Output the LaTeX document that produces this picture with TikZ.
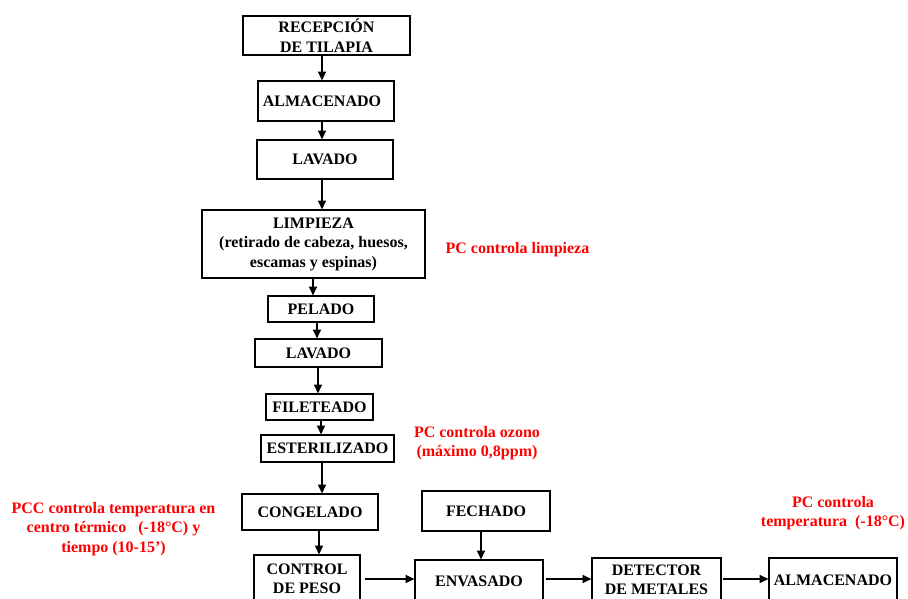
\documentclass[tikz,border=0pt]{standalone}
\usepackage{fontspec}
\setmainfont{Liberation Serif}
\usetikzlibrary{arrows.meta}
\begin{document}
\begin{tikzpicture}[x=0.75pt,y=-0.75pt,
  bx/.style n args={2}{draw,line width=0.9pt,inner sep=0pt,align=center,
    minimum width=#1*0.75pt,minimum height=#2*0.75pt,
    font=\fontsize{12}{14.6}\selectfont\bfseries},
  note/.style={text=red,align=center,inner sep=0pt,
    font=\fontsize{12}{14.6}\selectfont\bfseries},
  arr/.style={line width=0.9pt,-{Triangle[length=6.5pt,width=6pt]}}]
\useasboundingbox (0,0) rectangle (908,599);
\clip (0,0) rectangle (908,599);
\fill[white] (0,0) rectangle (908,599);
% process boxes
\node[bx={167}{39}] (rec) at (326.5,35.5) {RECEPCIÓN\\DE TILAPIA};
\node[bx={136}{40}] (alm1) at (326,101) {ALMACENADO\hspace*{6pt}};
\node[bx={136}{39}] (lav1) at (325,159.5) {LAVADO};
\node[bx={223}{68}] (limp) at (313.5,244) {LIMPIEZA\\(retirado de cabeza, huesos,\\escamas y espinas)};
\node[bx={106}{26}] (pel) at (321,309) {PELADO};
\node[bx={127}{28}] (lav2) at (318.5,353) {LAVADO};
\node[bx={107}{26}] (fil) at (319.5,407) {FILETEADO};
\node[bx={133}{27}] (est) at (327.5,448.5) {ESTERILIZADO};
\node[bx={136}{36}] (cong) at (310,512) {CONGELADO};
\node[bx={128}{40}] (fech) at (486,511) {FECHADO};
\node[bx={106}{48}] (ctrl) at (307,579) {CONTROL\\DE PESO};
\node[bx={128}{42}] (env) at (479,581) {ENVASADO};
\node[bx={129}{44}] (det) at (656.5,580) {DETECTOR\\DE METALES};
\node[bx={128}{44}] (alm2) at (833,580) {ALMACENADO};
% notes
\node[note] (n1) at (517.5,250) {PC controla limpieza};
\node[note] (n2) at (477,443) {PC controla ozono\\(máximo 0,8ppm)};
\node[note] (n3) at (113.5,529) {PCC controla temperatura en\\centro térmico\ \ \ (-18°C) y\\tiempo (10-15’)};
\node[note] (n4) at (833,513) {PC controla\\temperatura\ \ (-18°C)};
% arrow columns
\coordinate (c1) at (322,0);
\coordinate (c2) at (313,0);
\coordinate (c3) at (317,0);
\coordinate (c4) at (318,0);
\coordinate (c5) at (321,0);
\coordinate (c6) at (322,0);
\coordinate (c7) at (319,0);
\coordinate (c8) at (481,0);
\coordinate (r1) at (0,579);
% arrows
\draw[arr] (rec.south -| c1) -- (alm1.north -| c1);
\draw[arr] (alm1.south -| c1) -- (lav1.north -| c1);
\draw[arr] (lav1.south -| c1) -- (limp.north -| c1);
\draw[arr] (limp.south -| c2) -- (pel.north -| c2);
\draw[arr] (pel.south -| c3) -- (lav2.north -| c3);
\draw[arr] (lav2.south -| c4) -- (fil.north -| c4);
\draw[arr] (fil.south -| c5) -- (est.north -| c5);
\draw[arr] (est.south -| c6) -- (cong.north -| c6);
\draw[arr] (cong.south -| c7) -- (ctrl.north -| c7);
\draw[arr] (fech.south -| c8) -- (env.north -| c8);
\draw[arr] ([xshift=3pt]ctrl.east |- r1) -- (env.west |- r1);
\draw[arr] ([xshift=1.5pt]env.east |- r1) -- (det.west |- r1);
\draw[arr] ([xshift=1pt]det.east |- r1) -- (alm2.west |- r1);
\end{tikzpicture}
\end{document}
